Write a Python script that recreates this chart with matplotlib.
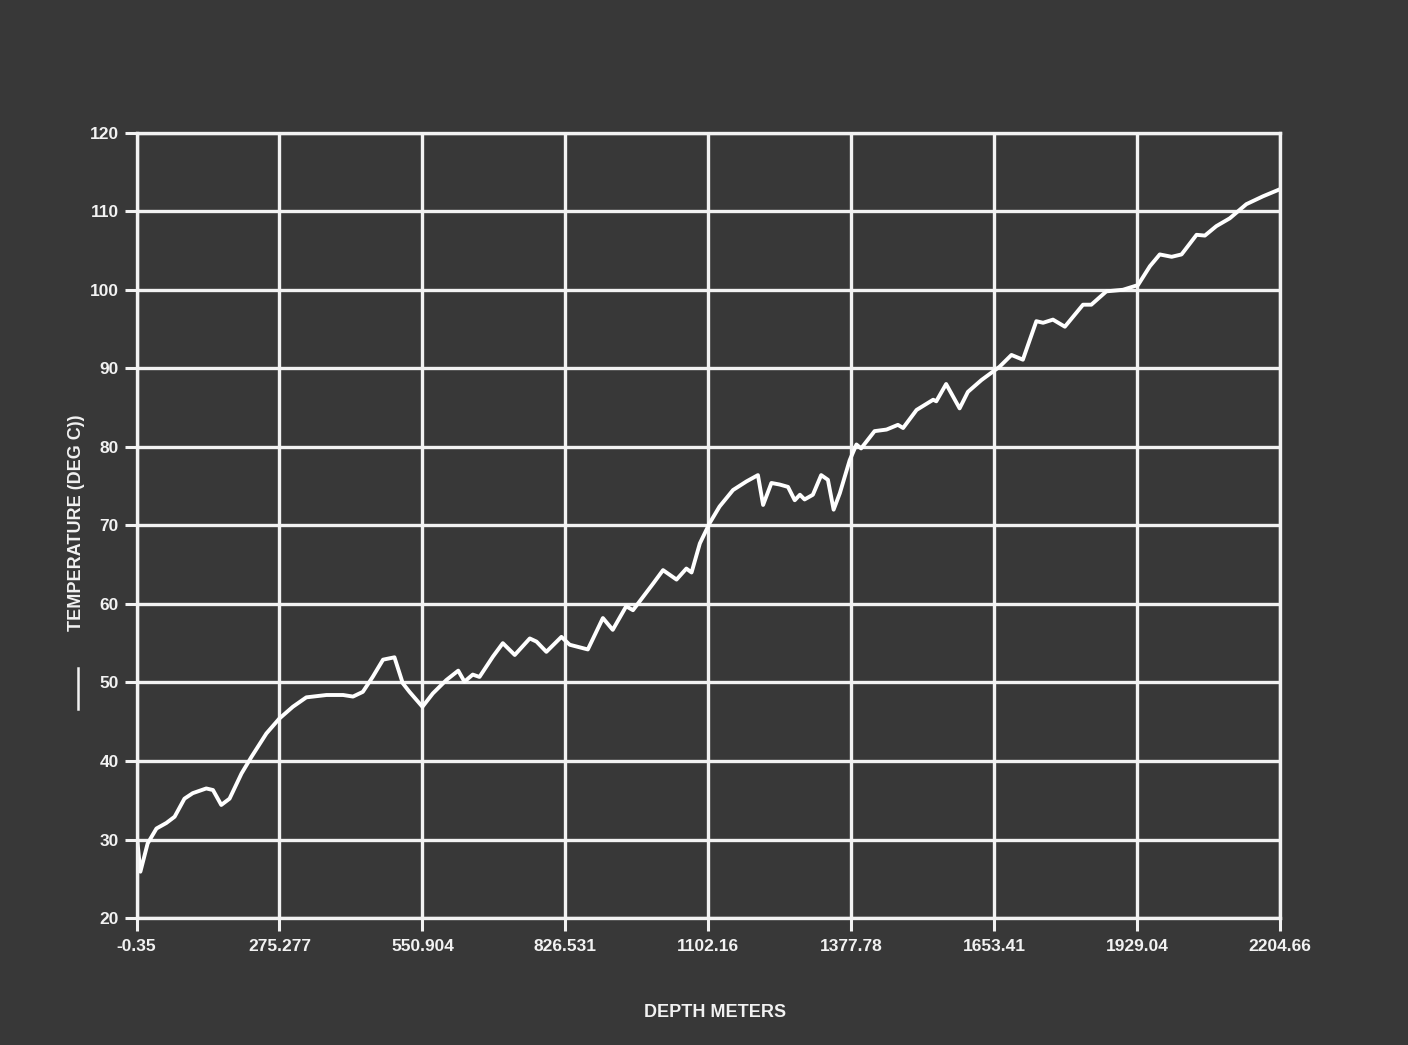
import matplotlib
matplotlib.use("Agg")
import matplotlib.pyplot as plt
from matplotlib.lines import Line2D

# depth (m) and temperature (deg C)
depth = [-0.35, 1, 7, 21, 38, 57, 73, 92, 108, 134, 147, 163, 179, 202, 221, 250,
         275, 301, 327, 366, 398, 417, 436, 455, 475, 497, 513, 526, 551, 571,
         597, 620, 632, 648, 661, 687, 706, 729, 758, 771, 790, 819, 835, 870,
         899, 918, 944, 957, 996, 1015, 1041, 1060, 1070, 1086, 1105, 1124, 1150,
         1176, 1198, 1208, 1224, 1240, 1256, 1269, 1279, 1288, 1304, 1320, 1333,
         1344, 1356, 1375, 1388, 1397, 1423, 1446, 1468, 1478, 1504, 1536, 1542,
         1561, 1587, 1603, 1629, 1664, 1687, 1709, 1735, 1748, 1767, 1790, 1825,
         1841, 1870, 1902, 1931, 1954, 1973, 1996, 2015, 2044, 2060, 2082, 2108,
         2140, 2172, 2201]
temp = [30.0, 29.9, 25.9, 29.5, 31.4, 32.1, 32.9, 35.2, 35.9, 36.5, 36.3, 34.4, 35.2,
        38.4, 40.5, 43.5, 45.4, 46.9, 48.1, 48.4, 48.4, 48.2, 48.8, 50.7, 52.9,
        53.2, 49.9, 48.8, 46.9, 48.6, 50.3, 51.5, 50.1, 51.0, 50.7, 53.3, 55.0,
        53.5, 55.6, 55.2, 53.9, 55.8, 54.8, 54.2, 58.2, 56.7, 59.7, 59.2, 62.6,
        64.3, 63.1, 64.5, 64.0, 67.7, 70.3, 72.4, 74.5, 75.6, 76.4, 72.6, 75.4,
        75.2, 74.9, 73.2, 73.9, 73.3, 73.9, 76.4, 75.8, 72.0, 74.1, 78.3, 80.3,
        79.8, 82.0, 82.2, 82.8, 82.4, 84.7, 86.0, 85.8, 88.0, 84.9, 87.0, 88.5,
        90.2, 91.7, 91.1, 96.0, 95.8, 96.2, 95.3, 98.1, 98.1, 99.8, 100.0, 100.6,
        103.0, 104.5, 104.2, 104.5, 107.0, 106.9, 108.1, 109.1, 110.9, 111.9, 112.7]

x_ticks = [-0.35, 275.277, 550.904, 826.531, 1102.16, 1377.78, 1653.41, 1929.04, 2204.66]
x_labels = ["-0.35", "275.277", "550.904", "826.531", "1102.16", "1377.78",
            "1653.41", "1929.04", "2204.66"]
y_ticks = [20, 30, 40, 50, 60, 70, 80, 90, 100, 110, 120]

bg = "#383838"
fg = "#f2f2f2"
plt.rcParams['font.family'] = ['Liberation Sans', 'DejaVu Sans']

fig = plt.figure(figsize=(14.08, 10.45), dpi=100, facecolor=bg)
ax = fig.add_axes([0.097, 0.1215, 0.812, 0.7515])
ax.set_facecolor(bg)

ax.plot(depth, temp, color="white", linewidth=2.8, solid_joinstyle="round")

ax.set_xlim(x_ticks[0], x_ticks[-1])
ax.set_ylim(20, 120)
ax.set_xticks(x_ticks)
ax.set_xticklabels(x_labels)
ax.set_yticks(y_ticks)
ax.grid(True, color=fg, linewidth=2.4)
ax.set_axisbelow(True)

for s in ax.spines.values():
    s.set_color(fg)
    s.set_linewidth(2.4)

ax.tick_params(axis="both", colors=fg, labelcolor=fg, labelsize=12.5,
               width=2.2, length=9, direction="out")
ax.tick_params(axis="x", pad=6)
ax.tick_params(axis="y", pad=4)
for lbl in ax.get_xticklabels() + ax.get_yticklabels():
    lbl.set_fontweight("bold")

fig.text(0.508, 0.031, "DEPTH METERS", color=fg, fontsize=13, ha="center",
         va="center", fontweight="bold")
fig.text(0.054, 0.50, "TEMPERATURE (DEG C))", color=fg, fontsize=13,
         rotation=90, ha="center", va="center", fontweight="bold")
# legend key for the single series, drawn below the label
fig.add_artist(Line2D([0.0555, 0.0555], [0.322, 0.361], color=fg, linewidth=1.8,
                      transform=fig.transFigure))

fig.savefig("out.png", dpi=100, facecolor=bg)
